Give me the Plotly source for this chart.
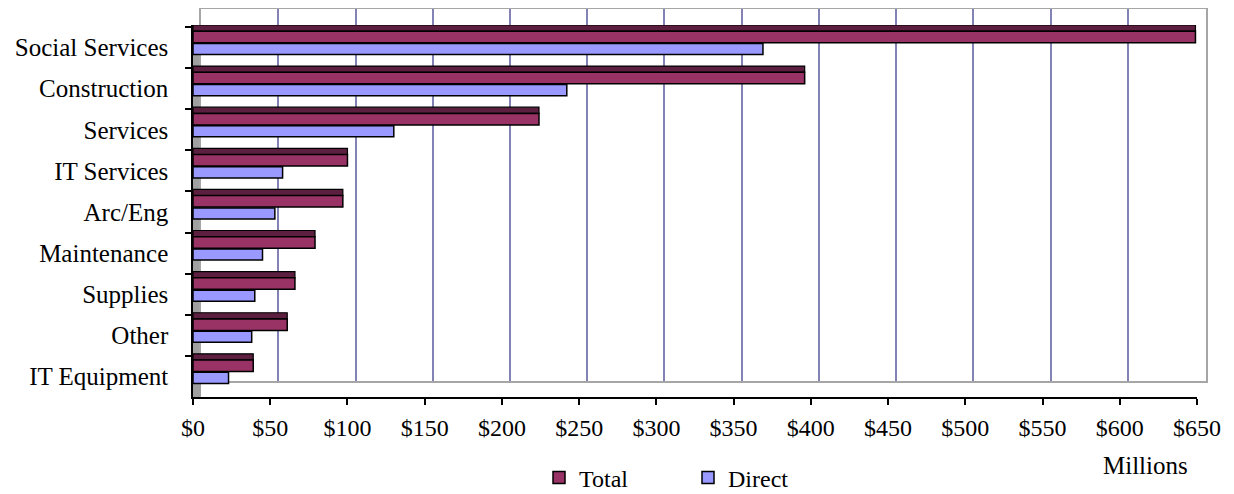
import plotly.graph_objects as go

categories = ["Social Services", "Construction", "Services", "IT Services", "Arc/Eng",
              "Maintenance", "Supplies", "Other", "IT Equipment"]
total = [649, 396, 224, 100, 97, 79, 66, 61, 39]
direct = [369, 242, 130, 58, 53, 45, 40, 38, 23]
x_ticks = list(range(0, 651, 50))
x_tick_labels = [f"${v}" for v in x_ticks]

FONT = "Liberation Serif, Times New Roman, serif"
TOTAL_C = "#993366"
TOTAL_TOP = "#5c1f40"
DIRECT_C = "#9999FF"

fig = go.Figure()

# empty trace so that the back-wall subplot (gridlines) is drawn
fig.add_trace(go.Scatter(x=[None], y=[None], xaxis="x", yaxis="y",
                         showlegend=False, hoverinfo="skip", mode="markers"))

# top face of the Total bars (3D look), same data
fig.add_trace(go.Bar(
    y=categories, x=total, orientation="h", xaxis="x2", yaxis="y2",
    marker=dict(color=TOTAL_TOP, line=dict(color="black", width=1.2)),
    offset=-0.55, width=0.15, showlegend=False, hoverinfo="skip"))
fig.add_trace(go.Bar(
    y=categories, x=total, orientation="h", name="Total", xaxis="x2", yaxis="y2",
    marker=dict(color=TOTAL_C, line=dict(color="black", width=1.5)),
    offset=-0.40, width=0.28))
fig.add_trace(go.Bar(
    y=categories, x=direct, orientation="h", name="Direct", xaxis="x2", yaxis="y2",
    marker=dict(color=DIRECT_C, line=dict(color="black", width=1.5)),
    offset=-0.10, width=0.27))

W = 1013.0
H = 388.0

fig.update_layout(
    width=1226, height=486,
    margin=dict(l=185, r=28, t=1, b=97, autoexpand=False),
    paper_bgcolor="white", plot_bgcolor="rgba(0,0,0,0)",
    font=dict(family=FONT, size=24, color="black"),
    barmode="overlay",
    # back wall (gridlines)
    xaxis=dict(domain=[8 / W, 1], range=[0, 650.5], dtick=50, tick0=0,
               showgrid=True, gridcolor="#8282b4", gridwidth=2,
               showticklabels=False, ticks="", zeroline=False,
               showline=True, linecolor="#a6a6a6", linewidth=1.5, mirror=True,
               anchor="y", fixedrange=True),
    yaxis=dict(domain=[16 / H, 1], range=[0, 1], showgrid=False, showticklabels=False,
               ticks="", zeroline=False, showline=True, linecolor="#a6a6a6",
               linewidth=1.5, mirror=True, anchor="x", fixedrange=True),
    # front axes (bars, labels)
    xaxis2=dict(domain=[0, 1004 / W], range=[0, 650], tickvals=x_ticks,
                ticktext=x_tick_labels, showgrid=False, zeroline=False,
                ticks="outside", ticklen=6, tickcolor="black", tickwidth=1.5,
                showline=True, linecolor="black", linewidth=1.5,
                ticklabelstandoff=2, anchor="y2",
                tickfont=dict(family=FONT, size=24, color="black")),
    yaxis2=dict(domain=[0, 372 / H], autorange="reversed", type="category",
                tickson="boundaries", ticks="outside", ticklen=6, tickcolor="black",
                tickwidth=1.5, showline=True, linecolor="black", linewidth=1.5,
                showgrid=False, ticklabelstandoff=18, anchor="x2",
                tickfont=dict(family=FONT, size=25, color="black")),
    legend=dict(orientation="h", x=(539 - 193) / W, xanchor="left",
                y=(397 - 478) / H, yanchor="middle",
                entrywidth=104, entrywidthmode="pixels",
                font=dict(family=FONT, size=24, color="black"),
                bgcolor="rgba(0,0,0,0)", traceorder="normal"),
    showlegend=True,
    shapes=[dict(type="rect", xref="paper", yref="paper", x0=0, x1=8 / W,
                 y0=0, y1=372 / H, fillcolor="#a0a0a0", line=dict(width=0),
                 layer="below")],
    annotations=[dict(text="Millions", xref="paper", yref="paper",
                      x=(1145 - 193) / W, y=(397 - 465) / H, xanchor="center",
                      yanchor="middle", showarrow=False,
                      font=dict(family=FONT, size=25, color="black"))],
)

fig.write_html("out.html")
